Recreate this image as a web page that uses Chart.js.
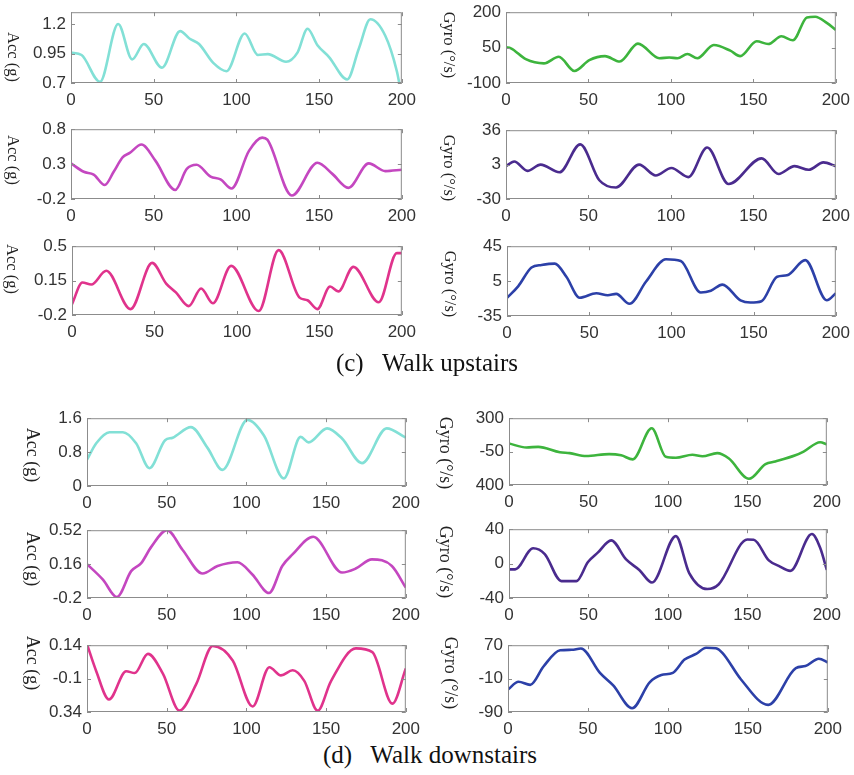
<!DOCTYPE html>
<html>
<head>
<meta charset="utf-8">
<script src="https://cdn.jsdelivr.net/npm/chart.js@4.4.1/dist/chart.umd.min.js"></script>
<style>
  html, body { margin: 0; padding: 0; background: #fff; }
  #page { position: relative; width: 854px; height: 775px; overflow: hidden; }
  .plot { position: absolute; }
  .ylab {
    position: absolute; writing-mode: vertical-rl; transform: translate(-50%, -50%);
    font-family: "Liberation Serif", "Times New Roman", serif; color: #222; white-space: nowrap;
  }
  .caption {
    position: absolute; transform: translateX(-50%);
    font-family: "Liberation Serif", "Times New Roman", serif; font-size: 25px; color: #111; white-space: pre;
  }
</style>
</head>
<body>
<div id="page"></div>
<script>
// x axis: sample index
const sampleTicks = [0, 50, 100, 150, 200];

// ---- (c) Walk upstairs ----
const upAcc1T = [0, 6.4, 17.5, 28.5, 37, 44, 55, 66, 71.8, 77.4, 86, 94, 105, 113, 119, 130, 137, 143, 149, 156, 167, 174, 181, 190, 197, 199];
const upAcc1V = [0.958, 0.937, 0.71, 1.2, 0.9, 1.03, 0.83, 1.14, 1.075, 1.03, 0.87, 0.8, 1.12, 0.937, 0.945, 0.88, 0.96, 1.16, 1.02, 0.92, 0.73, 0.99, 1.24, 1.1, 0.8, 0.66];
const upAcc1Ticks = [0.7, 0.95, 1.2];

const upGyro1T = [0, 3, 12, 23, 32, 41.5, 50.5, 60, 69, 80, 93, 99, 104, 110, 116, 126, 136, 142, 152, 159, 167, 174, 182.5, 187.5, 194.5, 200];
const upGyro1V = [51, 47, 1, -17, 11, -49, -3, 14, -9, 67, 5, 8, 5, 23, 5, 61, 37, 14, 77, 65, 98, 81, 178, 181, 155, 125];
const upGyro1Ticks = [-100, 50, 200];

const upAcc2T = [0, 7.7, 13.7, 20.4, 25.8, 31.3, 35.5, 42.6, 51, 63, 70, 75.9, 84.4, 90.4, 97, 107.6, 115.6, 118.7, 133.5, 149, 158, 167.7, 180, 190, 200];
const upAcc2V = [0.31, 0.19, 0.15, 0.0, 0.19, 0.4, 0.46, 0.58, 0.35, -0.07, 0.23, 0.29, 0.12, 0.08, -0.05, 0.49, 0.68, 0.65, -0.15, 0.32, 0.16, -0.04, 0.31, 0.2, 0.22];
const upAcc2Ticks = [-0.2, 0.3, 0.8];

const upGyro2T = [0, 5, 13, 21, 32.4, 45, 56.6, 66.7, 80.7, 90.8, 100.3, 110.6, 122, 135, 155, 165.3, 175, 183.5, 192.5, 200];
const upGyro2V = [1.5, 6, -3, 3, -4.4, 22.4, -12, -19, 3, -7.4, -0.3, -9, 19.4, -15.6, 9, -6, 1.5, -2, 5.1, 1.5];
const upGyro2Ticks = [-30, 3, 36];

const upAcc3T = [0, 6.3, 11.7, 20.8, 35.5, 48.6, 57.1, 63, 70.8, 78.3, 85.4, 96.5, 113.2, 125.3, 137.8, 142.8, 148.8, 156.5, 161.5, 170.6, 186, 197, 200];
const upAcc3V = [-0.09, 0.13, 0.11, 0.25, -0.14, 0.33, 0.12, 0.03, -0.11, 0.07, -0.08, 0.3, -0.16, 0.46, -0.02, -0.05, -0.14, 0.09, 0.04, 0.29, -0.07, 0.43, 0.43];
const upAcc3Ticks = [-0.2, 0.15, 0.5];

const upGyro3T = [0, 6.9, 14.9, 21, 29, 36.1, 44.2, 54.3, 61.3, 66.4, 74.5, 84.6, 96.7, 105.7, 117.9, 124, 131, 142, 148, 154.8, 164.3, 170.3, 181.4, 194.5, 200];
const upGyro3V = [-14.2, -0.7, 20.6, 23.5, 25, 10, -14, -8.9, -11.3, -9.6, -21, 4.6, 30, 28, -8, -6, 1, -17, -19.6, -18, 10, 11.6, 29, -17, -9];
const upGyro3Ticks = [-35, 5, 45];

// ---- (d) Walk downstairs ----
const downAcc1T = [0, 5.8, 14.2, 22.5, 30.8, 39.2, 49, 53.75, 65.2, 75.6, 85, 100.6, 111, 123.5, 134, 139, 150.6, 160, 172.5, 188, 200];
const downAcc1V = [0.62, 1.01, 1.27, 1.27, 1.01, 0.42, 1.08, 1.14, 1.39, 0.9, 0.38, 1.56, 1.19, 0.18, 1.16, 1.03, 1.36, 1.12, 0.54, 1.36, 1.14];
const downAcc1Ticks = [0, 0.8, 1.6];

const downGyro1T = [0, 11, 18.4, 32, 38.2, 48.6, 63, 70.6, 77.9, 89.8, 98.7, 105, 115.4, 121.7, 131, 138.4, 151, 161.4, 167.6, 180.2, 185.4, 195.8, 200];
const downGyro1V = [35, -7, 0, -56, -66, -96, -76, -89, -131, 195, -105, -115, -83, -99, -66, -122, -335, -181, -154, -89, -50, 48, 25];
const downGyro1Ticks = [-400, -50, 300];
const downGyro1Labels = ['400', '-50', '300'];

const downAcc2T = [0, 10, 18.75, 27.7, 34, 40.2, 50.2, 60, 72.5, 81.9, 94.4, 103.75, 114.2, 122.5, 128.75, 141.9, 160, 168.3, 178.75, 191.25, 200];
const downAcc2V = [0.16, -0.005, -0.19, 0.085, 0.17, 0.34, 0.52, 0.31, 0.06, 0.14, 0.18, 0.05, -0.147, 0.14, 0.26, 0.45, 0.07, 0.11, 0.21, 0.14, -0.09];
const downAcc2Ticks = [-0.2, 0.16, 0.52];

const downGyro2T = [0, 3.8, 15.2, 22.5, 33, 42.4, 49.7, 56, 64.3, 73.7, 82, 90, 105, 113.4, 124.8, 132, 150, 154, 163.5, 169.7, 177, 190.6, 195.8, 200];
const downGyro2V = [-6.7, -6.7, 17.8, 11, -20.4, -20.4, 1.9, 13, 27, 4.8, -7.4, -22, 32, -11, -29.6, -24, 28, 27.7, 3.7, -2.6, -8.5, 34.4, 18.5, -7.4];
const downGyro2Ticks = [-40, 0, 40];

const downAcc3T = [0, 5.8, 13.8, 24.6, 29.9, 38.2, 47.6, 58, 68.5, 78.9, 91.4, 103.9, 114.4, 121.7, 129, 136.3, 144.7, 153, 168.7, 179, 191.6, 200];
const downAcc3V = [0.147, -0.047, -0.25, -0.047, -0.06, 0.078, -0.064, -0.33, -0.14, 0.135, 0.03, -0.3, -0.018, -0.077, -0.04, -0.116, -0.33, -0.12, 0.117, 0.09, -0.28, -0.027];
const downAcc3Ticks = [-0.34, -0.1, 0.14];
const downAcc3Labels = ['0.34', '-0.1', '0.14'];

const downGyro3T = [0, 6.6, 13.9, 22.2, 32.6, 39.8, 45.6, 57.5, 65.8, 77.6, 88.6, 95.9, 103.1, 110.4, 117.6, 123.9, 130, 134.2, 145.6, 162.7, 180, 186, 194.4, 200];
const downGyro3V = [-36, -17.5, -25, 19, 58, 59, 62, 3.5, -26.5, -81, -19, -1.5, 3.7, 35.5, 49, 64, 62.5, 51, -11.5, -73, 15, 20, 37.7, 28.7];
const downGyro3Ticks = [-90, -10, 70];

const ACC_LABEL = 'Acc (g)';
const GYRO_LABEL = 'Gyro (°/s)';

// plot boxes (page px) + style
const panels = [
  { t: upAcc1T, v: upAcc1V, ticks: upAcc1Ticks, min: 0.7, max: 1.3, color: '#82e0d6', box: [71, 403, 7, 83], lab: ACC_LABEL, lx: 13, ly: 57, ls: 16.5 },
  { t: upGyro1T, v: upGyro1V, ticks: upGyro1Ticks, min: -100, max: 200, color: '#3db43d', box: [506, 837, 7, 83], lab: GYRO_LABEL, lx: 449, ly: 45, ls: 16.5 },
  { t: upAcc2T, v: upAcc2V, ticks: upAcc2Ticks, min: -0.2, max: 0.8, color: '#c447c0', box: [71, 403, 124, 199], lab: ACC_LABEL, lx: 13, ly: 160, ls: 16.5 },
  { t: upGyro2T, v: upGyro2V, ticks: upGyro2Ticks, min: -30, max: 36, color: '#4a2b8e', box: [506, 837, 125, 199], lab: GYRO_LABEL, lx: 449, ly: 168, ls: 16.5 },
  { t: upAcc3T, v: upAcc3V, ticks: upAcc3Ticks, min: -0.2, max: 0.5, color: '#e0338c', box: [72, 403, 241, 315], lab: ACC_LABEL, lx: 12, ly: 269, ls: 16.5 },
  { t: upGyro3T, v: upGyro3V, ticks: upGyro3Ticks, min: -35, max: 45, color: '#2c40a8', box: [507, 837, 241, 316], lab: GYRO_LABEL, lx: 450, ly: 284, ls: 16.5 },
  { t: downAcc1T, v: downAcc1V, ticks: downAcc1Ticks, min: 0, max: 1.6, color: '#82e0d6', box: [87, 407, 413, 486], lab: ACC_LABEL, lx: 32, ly: 455, ls: 18 },
  { t: downGyro1T, v: downGyro1V, ticks: downGyro1Ticks, labels: downGyro1Labels, min: -400, max: 300, color: '#3db43d', box: [509, 828, 413, 485], lab: GYRO_LABEL, lx: 445, ly: 453, ls: 18 },
  { t: downAcc2T, v: downAcc2V, ticks: downAcc2Ticks, min: -0.2, max: 0.52, color: '#c447c0', box: [87, 407, 525, 598], lab: ACC_LABEL, lx: 32, ly: 559, ls: 18 },
  { t: downGyro2T, v: downGyro2V, ticks: downGyro2Ticks, min: -40, max: 40, color: '#4a2b8e', box: [509, 828, 524, 598], lab: GYRO_LABEL, lx: 445, ly: 562, ls: 18 },
  { t: downAcc3T, v: downAcc3V, ticks: downAcc3Ticks, labels: downAcc3Labels, min: -0.34, max: 0.14, color: '#e0338c', box: [87, 407, 640, 712], lab: ACC_LABEL, lx: 32, ly: 663, ls: 18 },
  { t: downGyro3T, v: downGyro3V, ticks: downGyro3Ticks, min: -90, max: 70, color: '#2c40a8', box: [508, 829, 640, 712], lab: GYRO_LABEL, lx: 450, ly: 673, ls: 18 }
];

const PAD_L = 50, PAD_R = 20, PAD_T = 10, PAD_B = 28;
const tickFont = { family: 'Liberation Sans, Arial, sans-serif', size: 17 };
const tickColor = '#333';

// axes box with inward ticks, matlab style
const boxPlugin = {
  id: 'box',
  afterDraw(chart) {
    const { ctx, chartArea: a, scales: { x, y } } = chart;
    ctx.save();
    ctx.strokeStyle = '#8c8c8c';
    ctx.lineWidth = 1;
    ctx.strokeRect(a.left + 0.5, a.top + 0.5, a.right - a.left - 1, a.bottom - a.top - 1);
    ctx.beginPath();
    x.ticks.forEach(t => {
      const px = Math.round(x.getPixelForValue(t.value)) + 0.5;
      ctx.moveTo(px, a.bottom); ctx.lineTo(px, a.bottom - 4);
      ctx.moveTo(px, a.top); ctx.lineTo(px, a.top + 4);
    });
    y.ticks.forEach(t => {
      const py = Math.round(y.getPixelForValue(t.value)) + 0.5;
      ctx.moveTo(a.left, py); ctx.lineTo(a.left + 4, py);
      ctx.moveTo(a.right, py); ctx.lineTo(a.right - 4, py);
    });
    ctx.stroke();
    ctx.restore();
  }
};

const page = document.getElementById('page');

function makePanel(p) {
  const [L, R, T, B] = p.box;
  const cv = document.createElement('canvas');
  cv.className = 'plot';
  cv.width = (R - L) + PAD_L + PAD_R;
  cv.height = (B - T) + PAD_T + PAD_B;
  cv.style.left = (L - PAD_L) + 'px';
  cv.style.top = (T - PAD_T) + 'px';
  page.appendChild(cv);

  const lab = document.createElement('div');
  lab.className = 'ylab';
  lab.textContent = p.lab;
  lab.style.left = p.lx + 'px';
  lab.style.top = p.ly + 'px';
  lab.style.fontSize = p.ls + 'px';
  page.appendChild(lab);

  new Chart(cv, {
    type: 'line',
    data: {
      datasets: [{
        data: p.t.map((t, i) => ({ x: t, y: p.v[i] })),
        borderColor: p.color,
        borderWidth: 2.6,
        pointRadius: 0,
        cubicInterpolationMode: 'monotone',
        fill: false
      }]
    },
    options: {
      responsive: false,
      animation: false,
      devicePixelRatio: 1,
      layout: { padding: { left: 0, right: PAD_R, top: PAD_T, bottom: 0 } },
      plugins: { legend: { display: false }, tooltip: { enabled: false } },
      scales: {
        x: {
          type: 'linear', min: 0, max: 200,
          afterBuildTicks: s => { s.ticks = sampleTicks.map(v => ({ value: v })); },
          afterFit: s => { s.height = PAD_B; },
          grid: { display: false, drawTicks: false },
          border: { display: false },
          ticks: { padding: 7, font: tickFont, color: tickColor, maxRotation: 0, autoSkip: false }
        },
        y: {
          type: 'linear', min: p.min, max: p.max,
          afterBuildTicks: s => { s.ticks = p.ticks.map(v => ({ value: v })); },
          afterFit: s => { s.width = PAD_L; },
          grid: { display: false, drawTicks: false },
          border: { display: false },
          ticks: {
            padding: 5, font: tickFont, color: tickColor, autoSkip: false,
            callback: (v, i) => p.labels ? p.labels[i] : String(p.ticks[i])
          }
        }
      }
    },
    plugins: [boxPlugin]
  });
}

panels.forEach(makePanel);

function addCaption(text, cx, top) {
  const d = document.createElement('div');
  d.className = 'caption';
  d.textContent = text;
  d.style.left = cx + 'px';
  d.style.top = top + 'px';
  page.appendChild(d);
}
addCaption('(c)   Walk upstairs', 427, 349);
addCaption('(d)   Walk downstairs', 430, 741);
</script>
</body>
</html>
